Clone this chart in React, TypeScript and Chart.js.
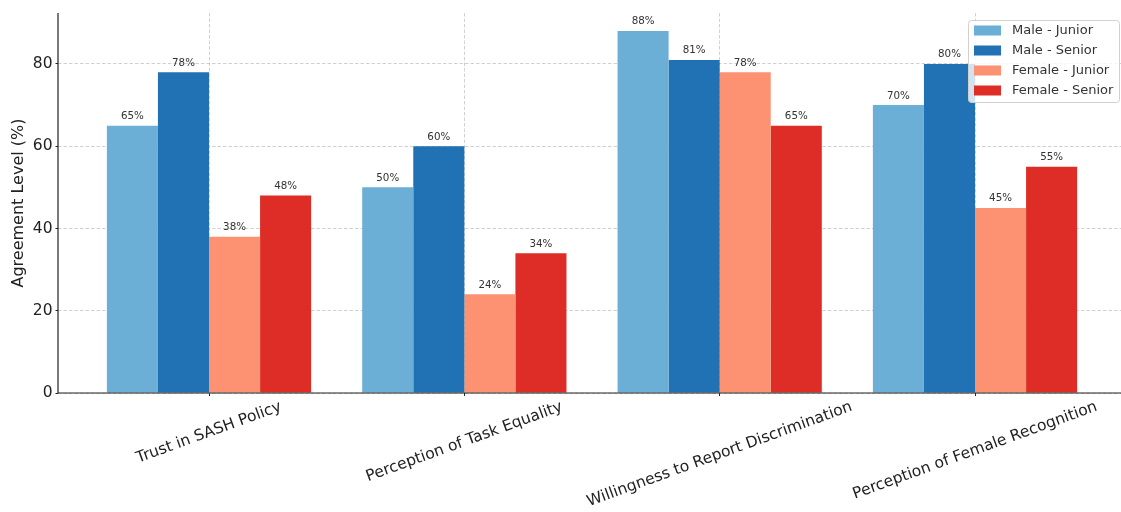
import { useEffect, useRef } from 'react';
import { Chart, registerables } from 'chart.js';

Chart.register(...registerables);

// Survey categories and agreement levels (%) per group
const categories = [
  'Trust in SASH Policy',
  'Perception of Task Equality',
  'Willingness to Report Discrimination',
  'Perception of Female Recognition',
];
const seriesNames = ['Male - Junior', 'Male - Senior', 'Female - Junior', 'Female - Senior'];
const maleJunior = [65, 50, 88, 70];
const maleSenior = [78, 60, 81, 80];
const femaleJunior = [38, 24, 78, 45];
const femaleSenior = [48, 34, 65, 55];
const seriesColors = ['#6baed6', '#2171b5', '#fc9272', '#de2d26'];
const yTicks = [0, 20, 40, 60, 80];

const FONT = "'DejaVu Sans', sans-serif";
const GRID = 'rgba(150,150,150,0.55)';
const AXIS = '#222';

// Percentage labels above each bar
const barLabels = {
  id: 'barLabels',
  afterDatasetsDraw(chart: any) {
    const { ctx } = chart;
    const yScale = chart.scales.y;
    ctx.save();
    ctx.font = `10.3px ${FONT}`;
    ctx.fillStyle = '#333';
    ctx.textAlign = 'center';
    ctx.textBaseline = 'alphabetic';
    chart.data.datasets.forEach((ds: any, di: number) => {
      const meta = chart.getDatasetMeta(di);
      meta.data.forEach((bar: any, i: number) => {
        const v = ds.data[i].y;
        ctx.fillText(`${v}%`, bar.x, yScale.getPixelForValue(v + 1) - 2.5);
      });
    });
    ctx.restore();
  },
};

// Solid left and bottom spines
const spines = {
  id: 'spines',
  afterDatasetsDraw(chart: any) {
    const { ctx, chartArea } = chart;
    ctx.save();
    ctx.strokeStyle = AXIS;
    ctx.lineWidth = 1.2;
    ctx.setLineDash([]);
    ctx.beginPath();
    ctx.moveTo(chartArea.left, chartArea.top);
    ctx.lineTo(chartArea.left, chartArea.bottom);
    ctx.lineTo(chartArea.right, chartArea.bottom);
    ctx.stroke();
    ctx.restore();
  },
};

// Rotated category labels, centred under each group
const categoryLabels = {
  id: 'categoryLabels',
  afterDraw(chart: any) {
    const { ctx, chartArea } = chart;
    const xScale = chart.scales.x;
    const angle = (20 * Math.PI) / 180;
    const size = 15.5;
    ctx.save();
    ctx.font = `${size}px ${FONT}`;
    ctx.fillStyle = AXIS;
    ctx.textAlign = 'center';
    ctx.textBaseline = 'middle';
    categories.forEach((label, i) => {
      const w = ctx.measureText(label).width;
      const h = size * 1.16;
      const boxH = w * Math.sin(angle) + h * Math.cos(angle);
      const cx = xScale.getPixelForValue(i);
      const cy = chartArea.bottom + 7 + boxH / 2 - 2;
      ctx.save();
      ctx.translate(cx, cy);
      ctx.rotate(-angle);
      ctx.fillText(label, 0, 0);
      ctx.restore();
    });
    ctx.restore();
  },
};

// Legend box in the upper right corner
const legendBox = {
  id: 'legendBox',
  afterDraw(chart: any) {
    const { ctx } = chart;
    const x = 968;
    const y = 20;
    const w = 151;
    const h = 82;
    ctx.save();
    ctx.beginPath();
    ctx.roundRect(x + 0.5, y + 0.5, w, h, 3);
    ctx.fillStyle = 'rgba(255,255,255,0.8)';
    ctx.fill();
    ctx.strokeStyle = '#d0d0d0';
    ctx.lineWidth = 1;
    ctx.stroke();
    ctx.font = `13px ${FONT}`;
    ctx.textAlign = 'left';
    ctx.textBaseline = 'middle';
    seriesNames.forEach((name, i) => {
      const rowY = y + 10.5 + i * 20;
      ctx.fillStyle = seriesColors[i];
      ctx.fillRect(x + 6, rowY - 5, 27, 10);
      ctx.fillStyle = '#333';
      ctx.fillText(name, x + 44, rowY + 0.5);
    });
    ctx.restore();
  },
};

export default function App() {
  const canvasRef = useRef<HTMLCanvasElement | null>(null);

  useEffect(() => {
    if (!canvasRef.current) return;
    const seriesValues = [maleJunior, maleSenior, femaleJunior, femaleSenior];
    const chart = new Chart(canvasRef.current, {
      type: 'bar',
      data: {
        datasets: seriesNames.map((name, si) => ({
          label: name,
          data: seriesValues[si].map((v, i) => ({ x: i, y: v })),
          backgroundColor: seriesColors[si],
          borderWidth: 0,
          barPercentage: 1,
          categoryPercentage: 0.8,
        })),
      },
      options: {
        animation: false,
        responsive: false,
        devicePixelRatio: 1,
        layout: { padding: { top: 13, right: 0, left: 0, bottom: 0 } },
        plugins: {
          legend: { display: false },
          tooltip: { enabled: false },
        },
        scales: {
          x: {
            type: 'linear',
            offset: false,
            min: -0.5914,
            max: 3.5718,
            afterBuildTicks: (scale: any) => {
              scale.ticks = categories.map((_, i) => ({ value: i }));
            },
            afterFit: (scale: any) => {
              scale.height = 119;
            },
            ticks: { display: false },
            grid: {
              offset: false,
              color: GRID,
              lineWidth: 0.8,
              drawTicks: true,
              tickLength: 3,
              tickColor: AXIS,
              tickWidth: 1,
              tickBorderDash: [],
            },
            border: { display: false, dash: [3.5, 2] },
          },
          y: {
            type: 'linear',
            min: 0,
            max: 92.4,
            afterBuildTicks: (scale: any) => {
              scale.ticks = yTicks.map((v) => ({ value: v }));
            },
            afterFit: (scale: any) => {
              scale.width = 58;
            },
            ticks: {
              padding: 3,
              color: AXIS,
              font: { family: FONT, size: 15.5 },
              callback: (v: any) => `${v}`,
            },
            grid: {
              color: GRID,
              lineWidth: 0.8,
              drawTicks: true,
              tickLength: 2.5,
              tickColor: AXIS,
              tickWidth: 1,
              tickBorderDash: [],
            },
            border: { display: false, dash: [3.5, 2] },
            title: {
              display: true,
              text: 'Agreement Level (%)',
              color: AXIS,
              font: { family: FONT, size: 16 },
              padding: { top: 9.5, bottom: 0 },
            },
          },
        },
      },
      plugins: [barLabels, spines, categoryLabels, legendBox],
    } as any);
    return () => chart.destroy();
  }, []);

  return (
    <div style={{ position: 'fixed', left: 0, top: 0, width: 1121, height: 512, background: '#fff' }}>
      <canvas ref={canvasRef} width={1121} height={512} />
    </div>
  );
}
